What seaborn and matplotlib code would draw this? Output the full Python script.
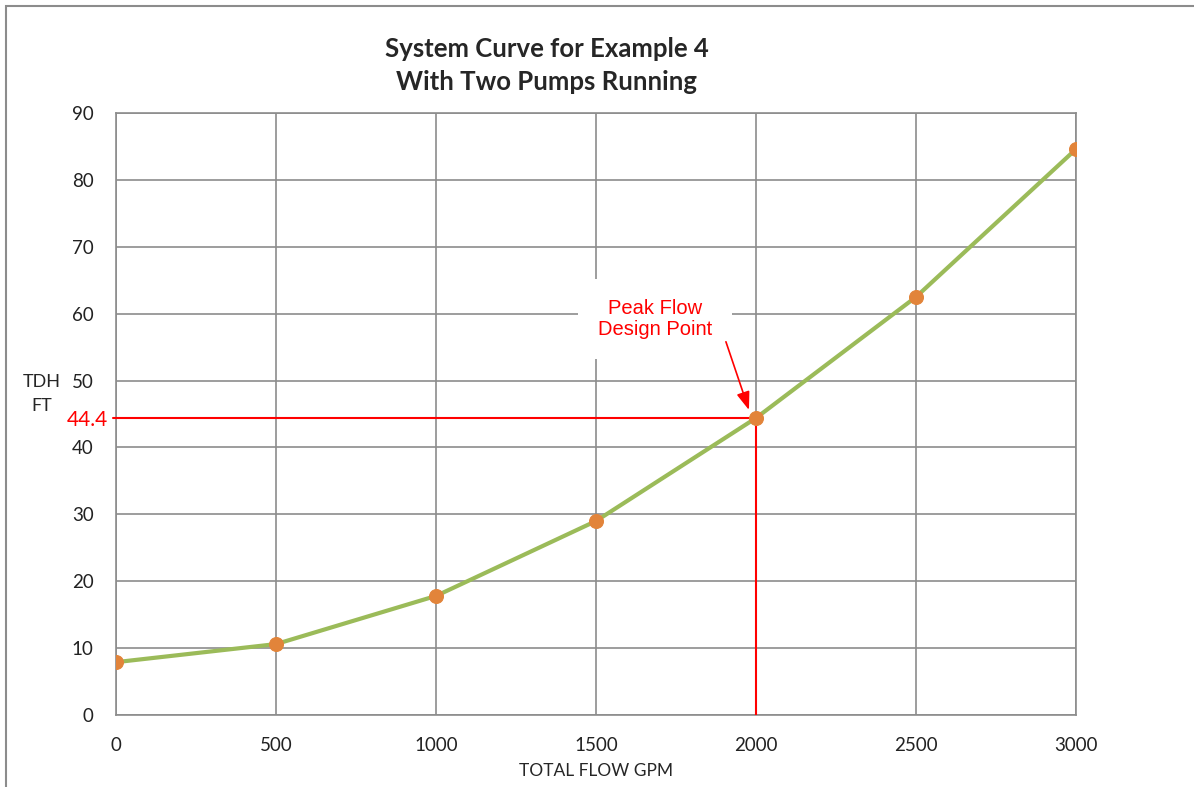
import matplotlib
matplotlib.use("Agg")
import matplotlib.pyplot as plt
import seaborn as sns
import pandas as pd
from matplotlib.patches import Rectangle

flow_gpm = [0, 500, 1000, 1500, 2000, 2500, 3000]
tdh_ft = [7.9, 10.6, 17.8, 29.0, 44.4, 62.5, 84.6]
design_flow = 2000
design_tdh = 44.4
x_ticks = [0, 500, 1000, 1500, 2000, 2500, 3000]
y_ticks = [0, 10, 20, 30, 40, 50, 60, 70, 80, 90]

df = pd.DataFrame({"flow": flow_gpm, "tdh": tdh_ft})

sns.set_style("white")
plt.rcParams['font.family'] = ['Lato', 'DejaVu Sans']

fig = plt.figure(figsize=(11.94, 7.87), dpi=100)
ax = fig.add_axes([116/1194, 1 - 715/787, 960/1194, 602/787])

grid_col = "#8c8c8c"

sns.lineplot(data=df, x="flow", y="tdh", ax=ax, color="#9BBB59", linewidth=3,
             zorder=4)
sns.scatterplot(data=df, x="flow", y="tdh", ax=ax, color="#E2843A", s=100,
                edgecolor="#E2843A", zorder=5)

# design point lines
ax.plot([-10, design_flow], [design_tdh, design_tdh], color="red", lw=1.5,
        zorder=3, clip_on=False)
ax.plot([design_flow, design_flow], [0, design_tdh], color="red", lw=1.5, zorder=3)

ax.set_xlim(0, 3000)
ax.set_ylim(0, 90)
ax.set_xticks(x_ticks)
ax.set_yticks(y_ticks)
ax.grid(True, color=grid_col, linewidth=1.2)
ax.set_axisbelow(True)
for s in ax.spines.values():
    s.set_color(grid_col)
    s.set_linewidth(1.2)
ax.tick_params(axis="both", direction="out", length=6, width=1.2, color=grid_col,
               labelsize=13.5, labelcolor="#222222")
ax.tick_params(axis="x", pad=10)
ax.tick_params(axis="y", pad=10)

ax.set_xlabel("TOTAL FLOW GPM", fontsize=12.5, labelpad=6)
ax.set_ylabel("")
fig.text(42/1194, 1 - 394/787, "TDH\nFT", ha="center", va="center",
         fontsize=13, linespacing=1.6)

# red 44.4 label
fig.text(108/1194, 1 - 420/787, "44.4", color="red", fontsize=15,
         ha="right", va="center")

# annotation box and arrow
ax.text(1684, 59.2, "Peak Flow\nDesign Point", color="red", fontsize=14.5,
        ha="center", va="center", family=["Liberation Sans", "DejaVu Sans"],
        linespacing=1.15, zorder=6,
        bbox=dict(boxstyle="square,pad=1.0", fc="white", ec="none"))
ax.annotate("", xy=(1978, 45.6), xytext=(1906, 55.8),
            arrowprops=dict(arrowstyle="-|>,head_length=1.1,head_width=0.4",
                            color="red", lw=1.2, shrinkA=0, shrinkB=0),
            zorder=6)

fig.suptitle("System Curve for Example 4\nWith Two Pumps Running",
             x=547/1194, y=1 - 37/787, fontsize=18.5, fontweight="bold",
             linespacing=1.45)

fig.patches.append(Rectangle((6/1194, -0.1), 1.2, 1 - 6/787 + 0.1,
                             transform=fig.transFigure, fill=False,
                             ec="#8c8c8c", lw=1.5))

fig.savefig("out.png", dpi=100)
